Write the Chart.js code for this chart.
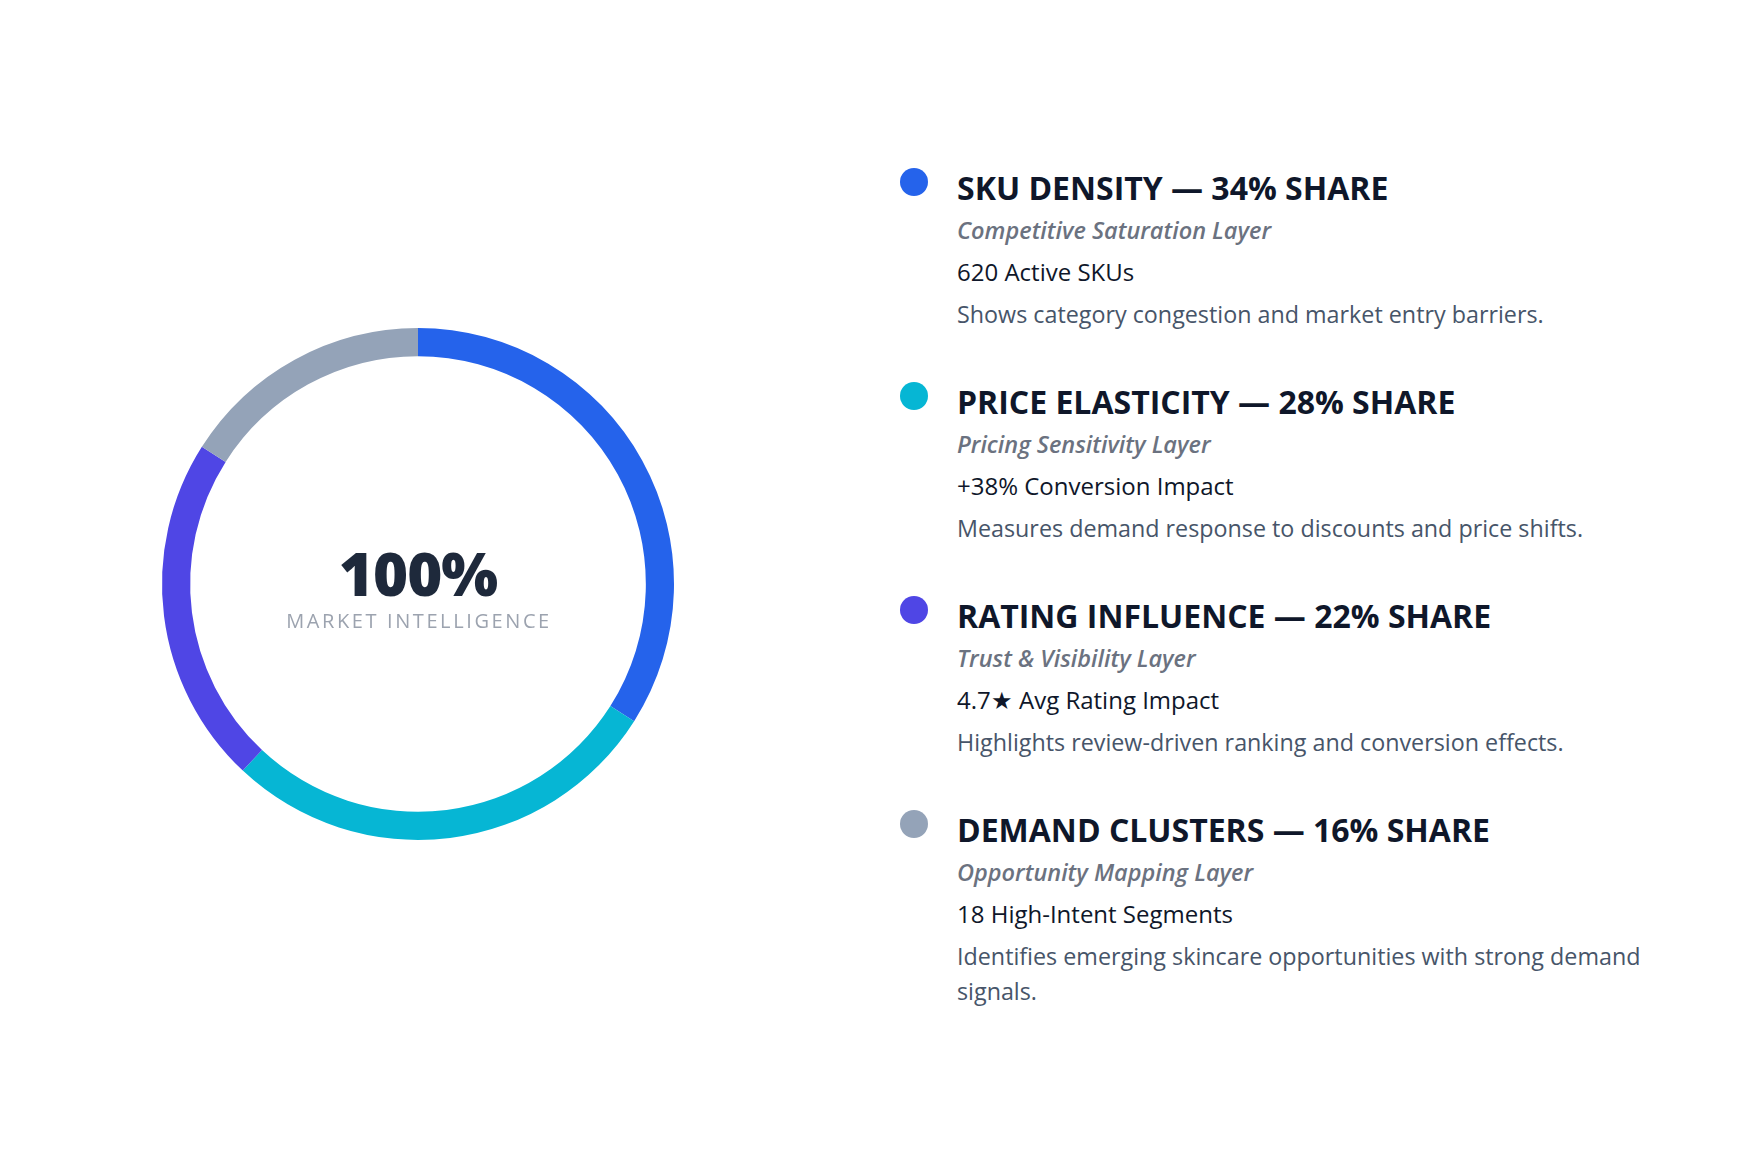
<!DOCTYPE html>
<html>
<head>
<meta charset="utf-8">
<script src="https://cdn.jsdelivr.net/npm/chart.js@4.4.1/dist/chart.umd.min.js"></script>
<style>
  html, body { margin: 0; padding: 0; background: #fff; }
  body { width: 1759px; height: 1163px; position: relative; overflow: hidden; font-family: "Open Sans", sans-serif; }
  #donutWrap { position: absolute; left: 148px; top: 314px; width: 540px; height: 540px; }
  #legend { position: absolute; left: 900px; top: 166px; width: 760px; }
  .item { position: relative; padding-left: 57px; margin-bottom: 48px; }
  .dot { position: absolute; left: 0; top: 2px; width: 28px; height: 28px; border-radius: 50%; }
  .title { font-weight: 700; font-size: 32px; line-height: 43px; color: #0f172a; white-space: nowrap; }
  .sub { font-style: italic; font-weight: 600; font-size: 23.5px; line-height: 42px; color: #6b7280; }
  .metric { font-weight: 500; font-size: 24px; line-height: 42px; color: #0f172a; }
  .desc { font-size: 23.3px; line-height: 35px; color: #475569; margin-top: 4px; width: 710px; }
</style>
</head>
<body>
<div id="donutWrap"><canvas id="donut"></canvas></div>
<div id="legend"></div>
<script>
const layers = ['SKU Density', 'Price Elasticity', 'Rating Influence', 'Demand Clusters'];
const shares = [34, 28, 22, 16];
const colors = ['#2563eb', '#06b6d4', '#4f46e5', '#94a3b8'];
const subtitles = ['Competitive Saturation Layer', 'Pricing Sensitivity Layer', 'Trust & Visibility Layer', 'Opportunity Mapping Layer'];
const metrics = ['620 Active SKUs', '+38% Conversion Impact', '4.7★ Avg Rating Impact', '18 High-Intent Segments'];
const descriptions = [
    'Shows category congestion and market entry barriers.',
    'Measures demand response to discounts and price shifts.',
    'Highlights review-driven ranking and conversion effects.',
    'Identifies emerging skincare opportunities with strong demand signals.'
];
const centerValue = '100%';
const centerLabel = 'MARKET INTELLIGENCE';

const centerText = {
    id: 'centerText',
    afterDraw(chart) {
        const ctx = chart.ctx;
        const meta = chart.getDatasetMeta(0).data[0];
        const x = meta.x, y = meta.y;
        ctx.save();
        ctx.textAlign = 'center';
        ctx.textBaseline = 'alphabetic';
        ctx.fillStyle = '#1e293b';
        ctx.font = '800 60px "Open Sans"';
        ctx.letterSpacing = '-1px';
        ctx.fillText(centerValue, x, y + 12);
        ctx.fillStyle = '#9ca3af';
        ctx.font = '500 20px "Open Sans"';
        ctx.letterSpacing = '2.6px';
        ctx.fillText(centerLabel, x + 1, y + 44);
        ctx.restore();
    }
};

new Chart(document.getElementById('donut'), {
    type: 'doughnut',
    data: {
        labels: layers,
        datasets: [{
            data: shares,
            backgroundColor: colors,
            borderWidth: 0,
            hoverOffset: 0,
            radius: 256,
            cutout: '89%'
        }]
    },
    options: {
        responsive: true,
        maintainAspectRatio: false,
        animation: false,
        plugins: {
            legend: { display: false },
            tooltip: { enabled: false }
        }
    },
    plugins: [centerText]
});

const legendEl = document.getElementById('legend');
layers.forEach((name, i) => {
    const item = document.createElement('div');
    item.className = 'item';
    item.innerHTML =
        '<div class="dot" style="background:' + colors[i] + '"></div>' +
        '<div class="title">' + name.toUpperCase() + ' — ' + shares[i] + '% SHARE</div>' +
        '<div class="sub">' + subtitles[i].replace('&', '&amp;') + '</div>' +
        '<div class="metric">' + metrics[i] + '</div>' +
        '<div class="desc">' + descriptions[i] + '</div>';
    legendEl.appendChild(item);
});
</script>
</body>
</html>
